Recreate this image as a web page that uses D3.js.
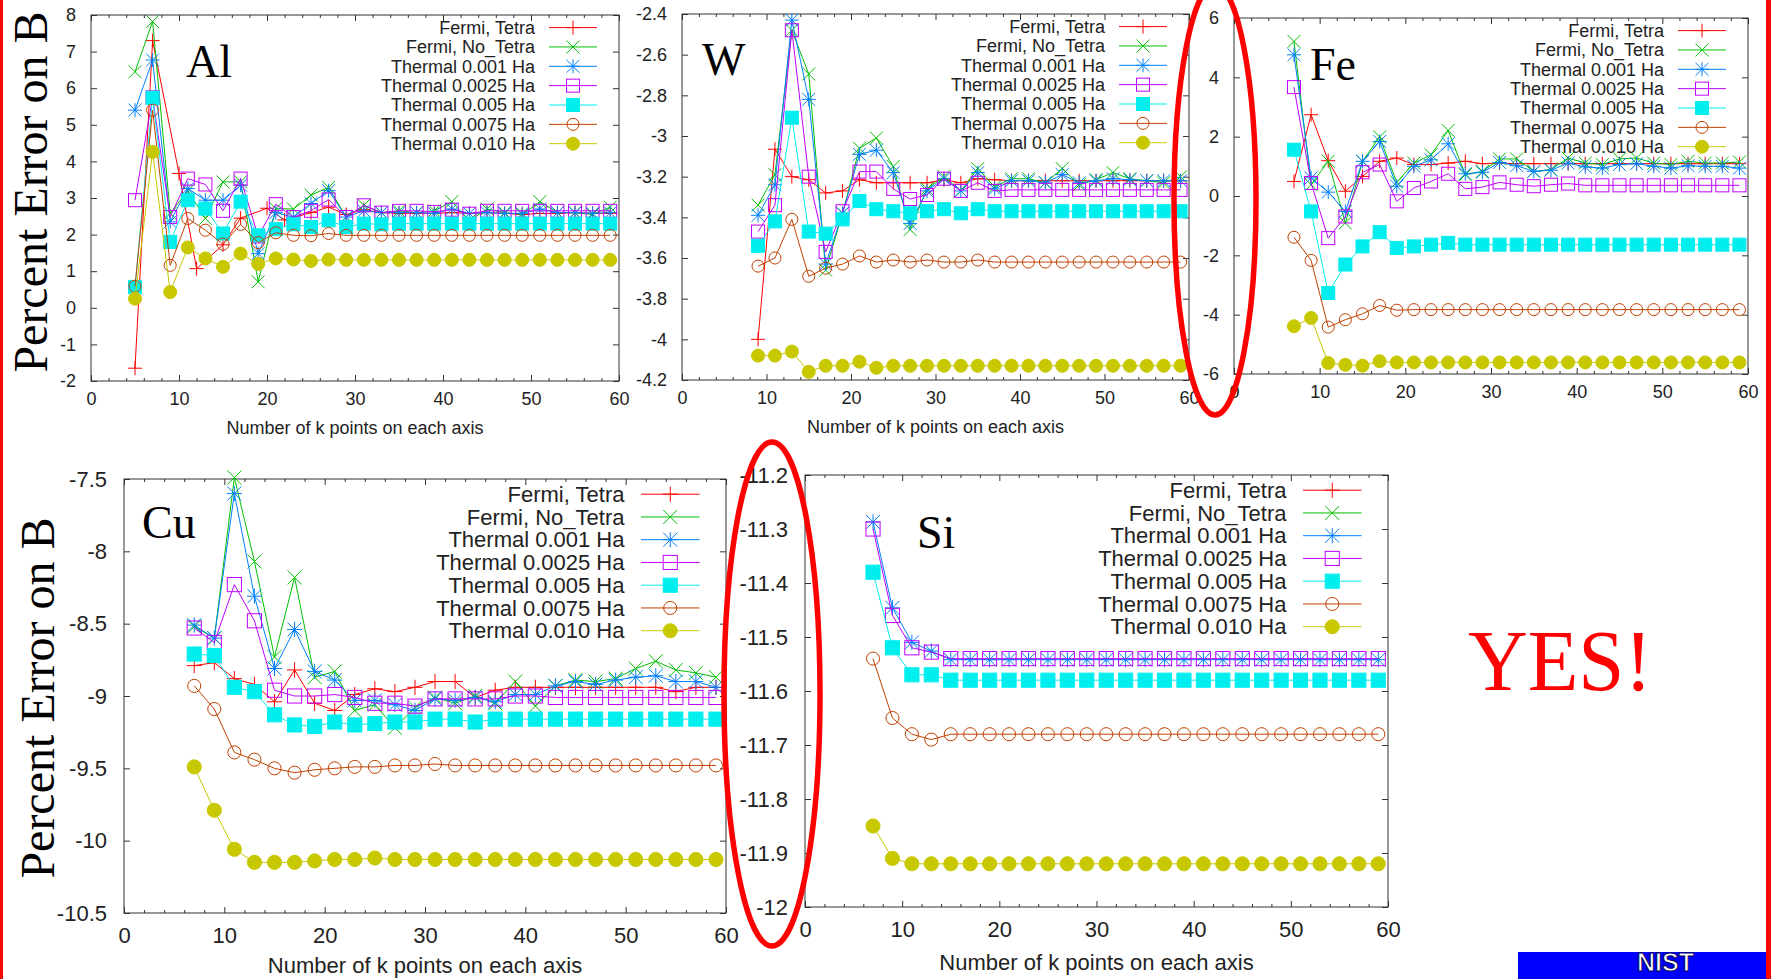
<!DOCTYPE html>
<html>
<head>
<meta charset="utf-8">
<script src="https://cdn.jsdelivr.net/npm/d3@7"></script>
<style>
  html, body { margin: 0; padding: 0; background: #ffffff; overflow: hidden; }
  svg { display: block; }
</style>
</head>
<body>
<svg id="chart" width="1771" height="979"></svg>
<script>
// ---------------------------------------------------------------
// Series shared by every panel
// ---------------------------------------------------------------
const seriesNames = [
  "Fermi, Tetra", "Fermi, No_Tetra", "Thermal 0.001 Ha", "Thermal 0.0025 Ha",
  "Thermal 0.005 Ha", "Thermal 0.0075 Ha", "Thermal 0.010 Ha"
];
const xTickValues = [0, 10, 20, 30, 40, 50, 60];
const xMinorValues = [2, 4, 6, 8, 12, 14, 16, 18, 22, 24, 26, 28, 32, 34, 36, 38,
                      42, 44, 46, 48, 52, 54, 56, 58];

// ---------------------------------------------------------------
// Al
// ---------------------------------------------------------------
const alYTicks = [8, 7, 6, 5, 4, 3, 2, 1, 0, -1, -2];
const kAl = [5,7,9,11,13,15,17,19,21,23,25,27,29,31,33,35,37,39,41,43,45,47,49,51,53,55,57,59];
const kAlTetra = [5,7,10,12,15,17,20,22,25,27,29,31,33,35,37,39,41,43,45,47,49,51,53,55,57,59];
const alTetra   = [-1.65,7.3,3.67,1.07,1.72,2.45,2.72,2.4,2.6,2.75,2.55,2.68,2.6,2.58,2.58,2.58,2.6,2.58,2.6,2.58,2.55,2.58,2.58,2.6,2.58,2.58];
const alNoTetra = [6.45,7.82,2.58,3.2,2.44,3.44,3.44,0.71,2.71,2.7,3.08,3.29,2.48,2.8,2.6,2.65,2.6,2.65,2.9,2.38,2.7,2.6,2.55,2.9,2.6,2.6,2.55,2.75];
const alT001    = [5.4,6.77,2.35,3.26,2.94,2.94,3.35,1.48,2.6,2.48,2.85,3.2,2.48,2.65,2.6,2.6,2.6,2.58,2.7,2.58,2.6,2.58,2.58,2.7,2.6,2.6,2.58,2.6];
const alT0025   = [2.94,5.75,2.48,3.53,3.37,2.65,3.53,1.95,2.83,2.48,2.65,2.96,2.48,2.8,2.6,2.65,2.65,2.62,2.68,2.57,2.65,2.65,2.65,2.65,2.65,2.65,2.65,2.65];
const alT005    = [0.57,5.74,1.8,2.94,2.71,2.03,2.9,1.98,2.15,2.28,2.21,2.39,2.21,2.3,2.28,2.3,2.3,2.3,2.3,2.3,2.3,2.3,2.3,2.3,2.3,2.3,2.3,2.3];
const alT0075   = [0.59,5.4,1.16,2.44,2.12,1.74,2.28,1.78,2.05,1.98,1.97,2.03,1.98,1.98,1.98,1.98,1.98,1.98,1.98,1.98,1.98,1.98,1.98,1.98,1.98,1.98,1.98,1.98];
const alT010    = [0.25,4.26,0.43,1.65,1.35,1.12,1.48,1.2,1.35,1.32,1.28,1.32,1.31,1.31,1.31,1.31,1.31,1.31,1.31,1.31,1.31,1.31,1.31,1.31,1.31,1.31,1.31,1.31];

// ---------------------------------------------------------------
// W
// ---------------------------------------------------------------
const wYTicks = [-2.4, -2.6, -2.8, -3, -3.2, -3.4, -3.6, -3.8, -4, -4.2];
const kW = [9,11,13,15,17,19,21,23,25,27,29,31,33,35,37,39,41,43,45,47,49,51,53,55,57,59];
const wTetra   = [-4.0,-3.065,-3.2,-3.215,-3.28,-3.27,-3.215,-3.23,-3.23,-3.23,-3.23,-3.215,-3.23,-3.21,-3.215,-3.22,-3.22,-3.22,-3.22,-3.22,-3.22,-3.22,-3.22,-3.22,-3.22,-3.22];
const wNoTetra = [-3.34,-3.19,-2.48,-2.695,-3.66,-3.38,-3.06,-3.01,-3.15,-3.46,-3.26,-3.2,-3.27,-3.16,-3.25,-3.21,-3.21,-3.23,-3.16,-3.24,-3.215,-3.18,-3.21,-3.22,-3.23,-3.2];
const wT001    = [-3.39,-3.24,-2.43,-2.82,-3.63,-3.38,-3.09,-3.07,-3.18,-3.43,-3.27,-3.21,-3.27,-3.18,-3.26,-3.22,-3.22,-3.23,-3.19,-3.23,-3.22,-3.21,-3.215,-3.22,-3.22,-3.22];
const wT0025   = [-3.47,-3.34,-2.48,-3.2,-3.57,-3.37,-3.175,-3.175,-3.26,-3.31,-3.29,-3.21,-3.27,-3.23,-3.27,-3.265,-3.265,-3.265,-3.265,-3.265,-3.265,-3.265,-3.265,-3.265,-3.265,-3.265];
const wT005    = [-3.54,-3.42,-2.91,-3.47,-3.48,-3.41,-3.32,-3.36,-3.37,-3.38,-3.37,-3.36,-3.38,-3.36,-3.37,-3.37,-3.37,-3.37,-3.37,-3.37,-3.37,-3.37,-3.37,-3.37,-3.37,-3.37];
const wT0075   = [-3.64,-3.6,-3.41,-3.69,-3.65,-3.63,-3.59,-3.62,-3.61,-3.62,-3.61,-3.62,-3.62,-3.61,-3.62,-3.62,-3.62,-3.62,-3.62,-3.62,-3.62,-3.62,-3.62,-3.62,-3.62,-3.62];
const wT010    = [-4.08,-4.08,-4.06,-4.16,-4.13,-4.13,-4.11,-4.14,-4.13,-4.13,-4.13,-4.13,-4.13,-4.13,-4.13,-4.13,-4.13,-4.13,-4.13,-4.13,-4.13,-4.13,-4.13,-4.13,-4.13,-4.13];

// ---------------------------------------------------------------
// Fe
// ---------------------------------------------------------------
const feYTicks = [6, 4, 2, 0, -2, -4, -6];
const kFe = [7,9,11,13,15,17,19,21,23,25,27,29,31,33,35,37,39,41,43,45,47,49,51,53,55,57,59];
const feTetra   = [0.49,2.74,1.19,0.16,0.66,1.17,1.28,1.06,1.06,1.11,1.17,1.09,1.11,1.09,1.09,1.09,1.09,1.09,1.09,1.09,1.09,1.09,1.09,1.09,1.09,1.09,1.09];
const feNoTetra = [5.21,0.38,1.17,-0.91,1.17,1.99,0.46,1.11,1.39,2.21,0.72,0.83,1.25,1.25,0.83,0.89,1.28,1.11,1.06,1.25,1.28,1.11,1.06,1.17,1.11,1.11,1.15];
const feT001    = [4.76,0.61,0.13,-0.52,1.17,1.84,0.33,1.0,1.22,1.76,0.75,0.8,1.13,1.02,0.83,0.87,1.11,0.98,0.94,1.06,1.09,1.0,0.94,1.02,1.0,1.0,0.94];
const feT0025   = [3.67,0.44,-1.42,-0.69,0.8,1.06,-0.18,0.27,0.49,0.75,0.24,0.3,0.46,0.38,0.33,0.38,0.42,0.36,0.36,0.36,0.36,0.36,0.36,0.36,0.36,0.36,0.36];
const feT005    = [1.56,-0.52,-3.27,-2.31,-1.7,-1.22,-1.75,-1.7,-1.64,-1.58,-1.64,-1.64,-1.64,-1.64,-1.64,-1.64,-1.64,-1.64,-1.64,-1.64,-1.64,-1.64,-1.64,-1.64,-1.64,-1.64,-1.64];
const feT0075   = [-1.39,-2.17,-4.42,-4.17,-3.97,-3.69,-3.85,-3.83,-3.83,-3.83,-3.83,-3.83,-3.83,-3.83,-3.83,-3.83,-3.83,-3.83,-3.83,-3.83,-3.83,-3.83,-3.83,-3.83,-3.83,-3.83,-3.83];
const feT010    = [-4.39,-4.11,-5.63,-5.69,-5.72,-5.57,-5.61,-5.61,-5.61,-5.61,-5.61,-5.61,-5.61,-5.61,-5.61,-5.61,-5.61,-5.61,-5.61,-5.61,-5.61,-5.61,-5.61,-5.61,-5.61,-5.61,-5.61];

// ---------------------------------------------------------------
// Cu
// ---------------------------------------------------------------
const cuYTicks = [-7.5, -8, -8.5, -9, -9.5, -10, -10.5];
const kCu = [7,9,11,13,15,17,19,21,23,25,27,29,31,33,35,37,39,41,43,45,47,49,51,53,55,57,59];
const cuTetra   = [-8.79,-8.77,-8.88,-8.92,-9.04,-8.82,-9.05,-9.1,-8.99,-8.95,-8.97,-8.94,-8.9,-8.9,-9.01,-8.96,-8.94,-8.94,-8.94,-8.94,-8.94,-8.94,-8.94,-8.94,-8.97,-8.94,-8.94];
const cuNoTetra = [-8.52,-8.6,-7.49,-8.07,-8.73,-8.18,-8.87,-8.83,-9.1,-9.06,-9.22,-9.08,-9.01,-9.05,-9.0,-9.05,-8.9,-9.07,-8.93,-8.89,-8.9,-8.88,-8.81,-8.76,-8.82,-8.84,-8.87];
const cuT001    = [-8.51,-8.6,-7.6,-8.31,-8.81,-8.54,-8.83,-8.89,-9.03,-9.03,-9.06,-9.1,-9.02,-9.03,-9.01,-9.04,-8.99,-8.99,-8.93,-8.9,-8.92,-8.89,-8.87,-8.86,-8.9,-8.9,-8.94];
const cuT0025   = [-8.53,-8.63,-8.23,-8.48,-8.96,-9.0,-9.0,-8.99,-9.01,-9.05,-9.05,-9.07,-9.02,-9.02,-9.02,-9.02,-9.0,-9.0,-9.01,-9.01,-9.01,-9.01,-9.01,-9.01,-9.01,-9.01,-9.01];
const cuT005    = [-8.71,-8.72,-8.94,-8.97,-9.13,-9.2,-9.21,-9.18,-9.2,-9.19,-9.18,-9.18,-9.16,-9.16,-9.18,-9.16,-9.16,-9.16,-9.16,-9.16,-9.16,-9.16,-9.16,-9.16,-9.16,-9.16,-9.16];
const cuT0075   = [-8.93,-9.09,-9.39,-9.44,-9.5,-9.53,-9.51,-9.5,-9.49,-9.49,-9.48,-9.48,-9.47,-9.48,-9.48,-9.48,-9.48,-9.48,-9.48,-9.48,-9.48,-9.48,-9.48,-9.48,-9.48,-9.48,-9.48];
const cuT010    = [-9.49,-9.79,-10.06,-10.15,-10.15,-10.15,-10.14,-10.13,-10.13,-10.12,-10.13,-10.13,-10.13,-10.13,-10.13,-10.13,-10.13,-10.13,-10.13,-10.13,-10.13,-10.13,-10.13,-10.13,-10.13,-10.13,-10.13];

// ---------------------------------------------------------------
// Si (the Fermi-level runs are not shown for this semiconductor)
// ---------------------------------------------------------------
const siYTicks = [-11.2, -11.3, -11.4, -11.5, -11.6, -11.7, -11.8, -11.9, -12];
const kSi = [7,9,11,13,15,17,19,21,23,25,27,29,31,33,35,37,39,41,43,45,47,49,51,53,55,57,59];
const siTetra   = [];
const siNoTetra = [];
const siT001    = [-11.287,-11.446,-11.51,-11.526,-11.542,-11.542,-11.542,-11.542,-11.542,-11.542,-11.542,-11.542,-11.542,-11.542,-11.542,-11.542,-11.542,-11.542,-11.542,-11.542,-11.542,-11.542,-11.542,-11.542,-11.542,-11.542,-11.542];
const siT0025   = [-11.3,-11.46,-11.52,-11.528,-11.54,-11.54,-11.54,-11.54,-11.54,-11.54,-11.54,-11.54,-11.54,-11.54,-11.54,-11.54,-11.54,-11.54,-11.54,-11.54,-11.54,-11.54,-11.54,-11.54,-11.54,-11.54,-11.54];
const siT005    = [-11.38,-11.52,-11.57,-11.57,-11.58,-11.58,-11.58,-11.58,-11.58,-11.58,-11.58,-11.58,-11.58,-11.58,-11.58,-11.58,-11.58,-11.58,-11.58,-11.58,-11.58,-11.58,-11.58,-11.58,-11.58,-11.58,-11.58];
const siT0075   = [-11.54,-11.65,-11.68,-11.69,-11.68,-11.68,-11.68,-11.68,-11.68,-11.68,-11.68,-11.68,-11.68,-11.68,-11.68,-11.68,-11.68,-11.68,-11.68,-11.68,-11.68,-11.68,-11.68,-11.68,-11.68,-11.68,-11.68];
const siT010    = [-11.85,-11.91,-11.92,-11.92,-11.92,-11.92,-11.92,-11.92,-11.92,-11.92,-11.92,-11.92,-11.92,-11.92,-11.92,-11.92,-11.92,-11.92,-11.92,-11.92,-11.92,-11.92,-11.92,-11.92,-11.92,-11.92,-11.92];

// ---------------------------------------------------------------
// Styling: gnuplot-like line colours and point types
// ---------------------------------------------------------------
const seriesColors  = ["#ff0000", "#00c000", "#0080ff", "#c000ff", "#00eeee", "#c04000", "#c8c800"];
const seriesSymbols = ["plus", "cross", "star", "box", "boxFilled", "circle", "circleFilled"];

const SANS  = "'Liberation Sans', Arial, Helvetica, sans-serif";
const SERIF = "'Liberation Serif', 'Times New Roman', serif";

const panels = [
  { name: "Al", k: kAl, kTetra: kAlTetra,
    values: [alTetra, alNoTetra, alT001, alT0025, alT005, alT0075, alT010],
    yDomain: [-2, 8], yTicks: alYTicks,
    box: { l: 91, r: 619, t: 15, b: 381 }, big: false,
    label: { x: 186, y: 77 }, xLabel: true },
  { name: "W", k: kW,
    values: [wTetra, wNoTetra, wT001, wT0025, wT005, wT0075, wT010],
    yDomain: [-4.2, -2.4], yTicks: wYTicks,
    box: { l: 682, r: 1189, t: 14, b: 380 }, big: false,
    label: { x: 702, y: 75 }, xLabel: true },
  { name: "Fe", k: kFe,
    values: [feTetra, feNoTetra, feT001, feT0025, feT005, feT0075, feT010],
    yDomain: [-6, 6], yTicks: feYTicks,
    box: { l: 1234, r: 1748, t: 18, b: 374 }, big: false,
    label: { x: 1310, y: 80 }, xLabel: false },
  { name: "Cu", k: kCu,
    values: [cuTetra, cuNoTetra, cuT001, cuT0025, cuT005, cuT0075, cuT010],
    yDomain: [-10.5, -7.5], yTicks: cuYTicks,
    box: { l: 124, r: 726, t: 479, b: 913 }, big: true,
    label: { x: 142, y: 538 }, xLabel: true },
  { name: "Si", k: kSi,
    values: [siTetra, siNoTetra, siT001, siT0025, siT005, siT0075, siT010],
    yDomain: [-12, -11.2], yTicks: siYTicks,
    box: { l: 805, r: 1388, t: 475, b: 907 }, big: true,
    label: { x: 917, y: 548 }, xLabel: true }
];

const svg = d3.select("#chart");
svg.append("rect").attr("width", 1771).attr("height", 979).attr("fill", "#ffffff");

// Draws one point symbol centred at (cx, cy)
function drawSymbol(g, type, cx, cy, color, s) {
  const plus  = `M${cx - s},${cy}H${cx + s}M${cx},${cy - s}V${cy + s}`;
  const c = s * 0.92;
  const cross = `M${cx - c},${cy - c}L${cx + c},${cy + c}M${cx - c},${cy + c}L${cx + c},${cy - c}`;
  const h = s * 0.93;
  if (type === "plus" || type === "cross" || type === "star") {
    const d = type === "plus" ? plus : type === "cross" ? cross : plus + cross;
    g.append("path").attr("d", d).attr("fill", "none")
      .attr("stroke", color).attr("stroke-width", 1);
  } else if (type === "box" || type === "boxFilled") {
    g.append("rect").attr("x", cx - h).attr("y", cy - h)
      .attr("width", 2 * h).attr("height", 2 * h)
      .attr("fill", type === "box" ? "none" : color)
      .attr("stroke", color).attr("stroke-width", 1);
  } else {
    const filled = type === "circleFilled";
    g.append("circle").attr("cx", cx).attr("cy", cy)
      .attr("r", filled ? h : s * 0.86)
      .attr("fill", filled ? color : "none")
      .attr("stroke", color).attr("stroke-width", 1);
  }
}

function styleAxis(sel, fs) {
  sel.select(".domain").remove();
  sel.selectAll(".tick line").attr("stroke", "#333").attr("stroke-width", 1);
  sel.selectAll(".tick text").attr("fill", "#222")
    .attr("font-family", SANS).attr("font-size", fs);
  sel.attr("font-family", SANS).attr("font-size", fs);
}

function drawPanel(p) {
  const fs = p.big ? 22 : 18;
  const sym = p.big ? 7.6 : 7;
  const { l, r, t, b } = p.box;
  const x = d3.scaleLinear().domain([0, 60]).range([l, r]);
  const y = d3.scaleLinear().domain(p.yDomain).range([b, t]);
  const g = svg.append("g").attr("class", "panel-" + p.name);
  const fmt = d => String(d);

  // bottom axis with labels, top mirror, minor ticks
  g.append("g").attr("transform", `translate(0,${b})`)
    .call(d3.axisBottom(x).tickValues(xTickValues).tickFormat(fmt)
      .tickSizeInner(-6).tickSizeOuter(0).tickPadding(p.big ? 14 : 11.5))
    .call(s => styleAxis(s, fs));
  g.append("g").attr("transform", `translate(0,${b})`)
    .call(d3.axisBottom(x).tickValues(xMinorValues).tickFormat("")
      .tickSizeInner(-3).tickSizeOuter(0))
    .call(s => styleAxis(s, fs));
  g.append("g").attr("transform", `translate(0,${t})`)
    .call(d3.axisTop(x).tickValues(xTickValues).tickFormat("")
      .tickSizeInner(-6).tickSizeOuter(0))
    .call(s => styleAxis(s, fs));
  g.append("g").attr("transform", `translate(0,${t})`)
    .call(d3.axisTop(x).tickValues(xMinorValues).tickFormat("")
      .tickSizeInner(-3).tickSizeOuter(0))
    .call(s => styleAxis(s, fs));

  // left axis with labels, right mirror
  g.append("g").attr("transform", `translate(${l},0)`)
    .call(d3.axisLeft(y).tickValues(p.yTicks).tickFormat(fmt)
      .tickSizeInner(-6).tickSizeOuter(0).tickPadding(p.big ? 17 : 15))
    .call(s => styleAxis(s, fs));
  g.append("g").attr("transform", `translate(${r},0)`)
    .call(d3.axisRight(y).tickValues(p.yTicks).tickFormat("")
      .tickSizeInner(-6).tickSizeOuter(0))
    .call(s => styleAxis(s, fs));

  // plot border
  g.append("rect").attr("x", l).attr("y", t)
    .attr("width", r - l).attr("height", b - t)
    .attr("fill", "none").attr("stroke", "#333").attr("stroke-width", 1);

  // element name
  g.append("text").attr("x", p.label.x).attr("y", p.label.y)
    .attr("font-family", SERIF).attr("font-size", 46).attr("fill", "#000")
    .text(p.name);

  // x-axis title
  if (p.xLabel) {
    g.append("text").attr("x", (l + r) / 2).attr("y", Math.min(b + (p.big ? 63 : 53), 973))
      .attr("text-anchor", "middle").attr("font-family", SANS)
      .attr("font-size", fs).attr("fill", "#222")
      .text("Number of k points on each axis");
  }

  // series: line then points, in order
  p.values.forEach((vals, i) => {
    if (!vals.length) return;
    const ks = (i === 0 && p.kTetra) ? p.kTetra : p.k;
    const pts = vals.map((v, j) => [ks[j], v]);
    const sg = g.append("g");
    sg.append("path").datum(pts)
      .attr("d", d3.line().x(d => x(d[0])).y(d => y(d[1])))
      .attr("fill", "none").attr("stroke", seriesColors[i]).attr("stroke-width", 1);
    pts.forEach(d => drawSymbol(sg, seriesSymbols[i], x(d[0]), y(d[1]), seriesColors[i], sym));
  });

  // legend
  const legText = p.big ? 101.5 : 84;
  const legX1 = r - (p.big ? 85 : 70);
  const legX2 = r - (p.big ? 26.5 : 22);
  const row0 = t + (p.big ? 15.2 : 12.6);
  const step = p.big ? 22.75 : 19.35;
  seriesNames.forEach((name, i) => {
    const yy = row0 + i * step;
    g.append("text").attr("x", r - legText).attr("y", yy).attr("dy", "0.35em")
      .attr("text-anchor", "end").attr("font-family", SANS)
      .attr("font-size", fs).attr("fill", "#222").text(name);
    g.append("line").attr("x1", legX1).attr("x2", legX2).attr("y1", yy).attr("y2", yy)
      .attr("stroke", seriesColors[i]).attr("stroke-width", 1);
    drawSymbol(g, seriesSymbols[i], (legX1 + legX2) / 2, yy, seriesColors[i], sym);
  });
}

panels.forEach(drawPanel);

// shared y-axis titles
[[47, 192], [54, 698]].forEach(([tx, ty]) => {
  svg.append("text")
    .attr("transform", `translate(${tx},${ty}) rotate(-90)`)
    .attr("text-anchor", "middle").attr("font-family", SERIF)
    .attr("font-size", 48).attr("fill", "#000")
    .text("Percent Error on B");
});

// verdict
svg.append("text").attr("x", 1468).attr("y", 690)
  .attr("font-family", SERIF).attr("font-size", 86).attr("fill", "#ff0000")
  .attr("textLength", 184).attr("lengthAdjust", "spacingAndGlyphs")
  .text("YES!");

// highlight rings around the axis ranges
svg.append("ellipse").attr("cx", 1215).attr("cy", 200).attr("rx", 41).attr("ry", 215)
  .attr("fill", "none").attr("stroke", "#ff0000").attr("stroke-width", 5.5);
svg.append("ellipse").attr("cx", 772).attr("cy", 694).attr("rx", 48).attr("ry", 252)
  .attr("fill", "none").attr("stroke", "#ff0000").attr("stroke-width", 5.5);

// slide frame and footer logo
svg.append("rect").attr("x", 1518).attr("y", 952).attr("width", 250).attr("height", 27)
  .attr("fill", "#0000ff");
svg.append("text").attr("x", 1637).attr("y", 971)
  .attr("font-family", SANS).attr("font-weight", "bold").attr("font-size", 25)
  .attr("fill", "#ffffff").attr("stroke", "#000050").attr("stroke-width", 1)
  .text("NIST");
svg.append("rect").attr("x", 0).attr("y", 0).attr("width", 3).attr("height", 979).attr("fill", "#ff0000");
svg.append("rect").attr("x", 1766).attr("y", 0).attr("width", 5).attr("height", 979).attr("fill", "#ff0000");
</script>
</body>
</html>
